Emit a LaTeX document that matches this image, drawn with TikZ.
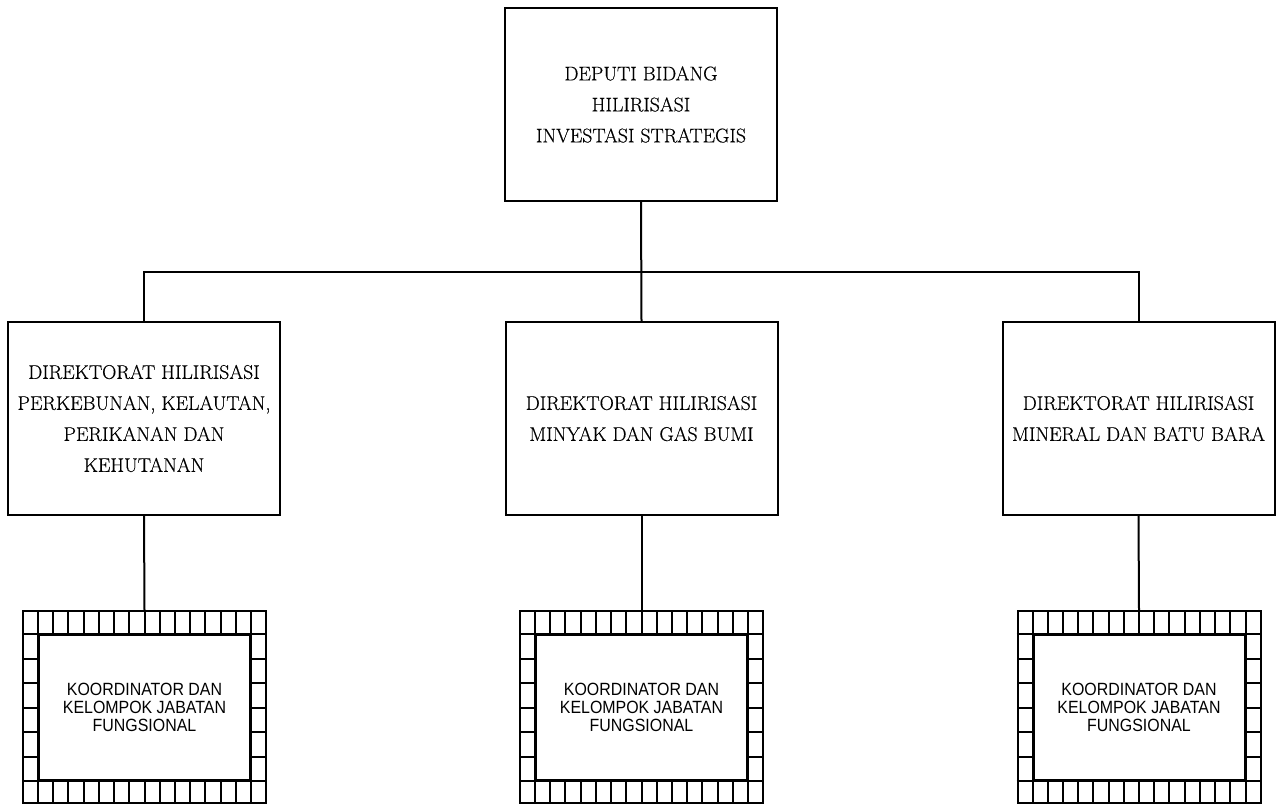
\documentclass[tikz,border=0pt]{standalone}
\usepackage{fontspec}
\newfontfamily\labelsans{Liberation Sans}[FakeStretch=0.9]
\newfontfamily\unitserif{Latin Modern Roman}[FakeBold=0.4]
\usetikzlibrary{calc}

% Hatched frame around a functional-group box: #1o is the outer node, #1i the inner one
\newcommand\cellframe[1]{%
  \draw (#1i.north west |- #1o.north) -- (#1i.south west |- #1o.south);
  \draw (#1i.north east |- #1o.north) -- (#1i.south east |- #1o.south);
  \draw (#1o.west |- #1i.north) -- (#1o.east |- #1i.north);
  \draw (#1o.west |- #1i.south) -- (#1o.east |- #1i.south);
  \foreach \k in {1,...,13}{%
    \coordinate (tp) at ($(#1i.north west)!\k/14!(#1i.north east)$);
    \coordinate (bt) at ($(#1i.south west)!\k/14!(#1i.south east)$);
    \draw (tp) -- (tp |- #1o.north);
    \draw (bt) -- (bt |- #1o.south);
  }
  \foreach \k in {1,...,5}{%
    \coordinate (lf) at ($(#1i.north west)!\k/6!(#1i.south west)$);
    \coordinate (rt) at ($(#1i.north east)!\k/6!(#1i.south east)$);
    \draw (lf) -- (lf -| #1o.west);
    \draw (rt) -- (rt -| #1o.east);
  }%
}

\begin{document}
\begin{tikzpicture}[x=1pt,y=-1pt,line width=2pt,
  unitbox/.style={draw, rectangle, minimum width=272pt, minimum height=193pt,
    inner sep=0pt, align=center, font=\unitserif\fontsize{19.8}{31}\selectfont},
  frameout/.style={draw, rectangle, minimum width=243pt, minimum height=192pt, inner sep=0pt},
  framein/.style={draw, rectangle, minimum width=211pt, minimum height=145pt,
    inner sep=0pt, align=center, font=\labelsans\fontsize{17.7}{18.3}\selectfont},
]
\useasboundingbox (0,0) rectangle (1283,804);

% Deputy
\node[unitbox] (dep) at (641,104.5) {DEPUTI BIDANG\\HILIRISASI\\INVESTASI STRATEGIS};

% Directorates
\node[unitbox] (dl) at (144,418.5) {DIREKTORAT HILIRISASI\\PERKEBUNAN, KELAUTAN,\\PERIKANAN DAN\\KEHUTANAN};
\node[unitbox] (dm) at (641.5,418.5) {DIREKTORAT HILIRISASI\\MINYAK DAN GAS BUMI};
\node[unitbox] (dr) at (1138.5,418.5) {DIREKTORAT HILIRISASI\\MINERAL DAN BATU BARA};

% Functional groups
\node[frameout] (klo) at (144.5,707) {};
\node[framein] (kli) at (144.5,707.5) {KOORDINATOR DAN\\KELOMPOK JABATAN\\FUNGSIONAL};
\node[frameout] (kmo) at (641.5,707) {};
\node[framein] (kmi) at (641.5,707.5) {KOORDINATOR DAN\\KELOMPOK JABATAN\\FUNGSIONAL};
\node[frameout] (kro) at (1139,707) {};
\node[framein] (kri) at (1139,707.5) {KOORDINATOR DAN\\KELOMPOK JABATAN\\FUNGSIONAL};
\cellframe{kl}
\cellframe{km}
\cellframe{kr}

% Connectors
\coordinate (bus) at (641,272);
\draw (dep.south) -- (dm.north);
\draw (dl.north) |- (bus) -| (dr.north);
\draw (dl.south) -- (klo.north);
\draw (dm.south) -- (kmo.north);
\draw (dr.south) -- (kro.north);
\end{tikzpicture}
\end{document}
